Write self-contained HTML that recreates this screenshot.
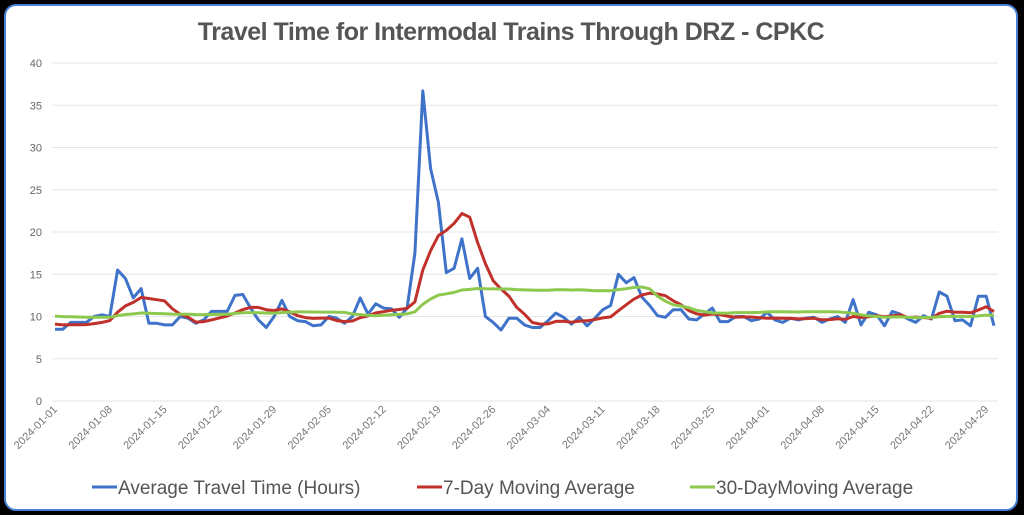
<!DOCTYPE html>
<html><head><meta charset="utf-8"><style>
body{margin:0;background:#000;width:1024px;height:515px;overflow:hidden;font-family:"Liberation Sans",sans-serif}
#p{position:absolute;left:4px;top:4px;width:1010px;height:503px;background:#fff;border:2px solid #4a7fd6;border-radius:12px;}
</style></head><body>
<div id="p"></div>
<svg id="s" width="1024" height="515" style="position:absolute;left:0;top:0">
<text x="511" y="40" text-anchor="middle" font-size="25" font-weight="bold" fill="#555" font-family="Liberation Sans, sans-serif" letter-spacing="-0.5">Travel Time for Intermodal Trains Through DRZ - CPKC</text>
</svg>
<script>
var s=document.getElementById('s'),h='';
function Y(v){return 401-v*8.45;}
for(var v=0;v<=40;v+=5){h+='<line x1="52" x2="998" y1="'+Y(v)+'" y2="'+Y(v)+'" stroke="#e6e6e6" stroke-width="1"/>';
h+='<text x="42" y="'+(Y(v)+4)+'" text-anchor="end" font-size="11" fill="#666">'+v+'</text>';}
var b=[8.5,8.5,9.3,9.3,9.3,10,10.2,10,15.5,14.5,12.2,13.3,9.2,9.2,9,9,10,9.8,9.2,9.6,10.6,10.6,10.6,12.5,12.6,11,9.6,8.7,10,11.9,10,9.5,9.4,8.9,9,10,9.8,9.2,10,12.2,10.3,11.5,11,10.9,9.9,11,17.5,36.7,27.5,23.5,15.2,15.7,19.2,14.5,15.7,10,9.3,8.4,9.8,9.8,9,8.7,8.7,9.5,10.4,9.9,9.1,9.9,8.9,9.8,10.8,11.3,15,14,14.6,12.3,11.3,10.1,9.9,10.8,10.8,9.7,9.6,10.3,11,9.4,9.4,10,10,9.5,9.7,10.5,9.6,9.3,9.8,9.6,9.8,9.9,9.3,9.7,10,9.3,12,9,10.5,10.2,8.9,10.6,10.3,9.7,9.3,10.1,9.7,12.9,12.4,9.5,9.6,8.9,12.4,12.4,8.9];
var n=b.length;function X(i){return 55+i*(994-55)/(n-1);}
function ma(k,pre){var r=[];for(var i=0;i<n;i++){var s2=0,c=0;for(var j=i-k+1;j<=i;j++){s2+=(j<0?pre:b[j]);c++;}r.push(s2/c);}return r;}
var red=ma(7,9.2),gr=ma(30,10.1);
function path(a,c){var d='';for(var i=0;i<n;i++)d+=(i?'L':'M')+X(i).toFixed(1)+' '+Y(a[i]).toFixed(1);return '<path d="'+d+'" fill="none" stroke="'+c+'" stroke-width="3" stroke-linejoin="round"/>';}
h+=path(b,'#3f73c9')+path(red,'#c0312b')+path(gr,'#8dc84f');
var m=[31,29,31,30];
for(var d=0;d<=119;d+=7){var mo=0,dd=d;while(dd>=m[mo]){dd-=m[mo];mo++;}
var lab='2024-0'+(mo+1)+'-'+(dd+1<10?'0':'')+(dd+1);var x=55+d*(994-55)/120;
h+='<text transform="translate('+(x+3)+',410) rotate(-45)" text-anchor="end" font-size="11" fill="#777">'+lab+'</text>';}
var L=[[92,'#3f73c9','Average Travel Time (Hours)'],[417,'#c0312b','7-Day Moving Average'],[690,'#8dc84f','30-DayMoving Average']];
L.forEach(function(l){h+='<line x1="'+l[0]+'" x2="'+(l[0]+25)+'" y1="487" y2="487" stroke="'+l[1]+'" stroke-width="3"/><text x="'+(l[0]+26)+'" y="494" font-size="19" fill="#555">'+l[2]+'</text>';});
s.innerHTML+=h;
</script>
</body></html>
